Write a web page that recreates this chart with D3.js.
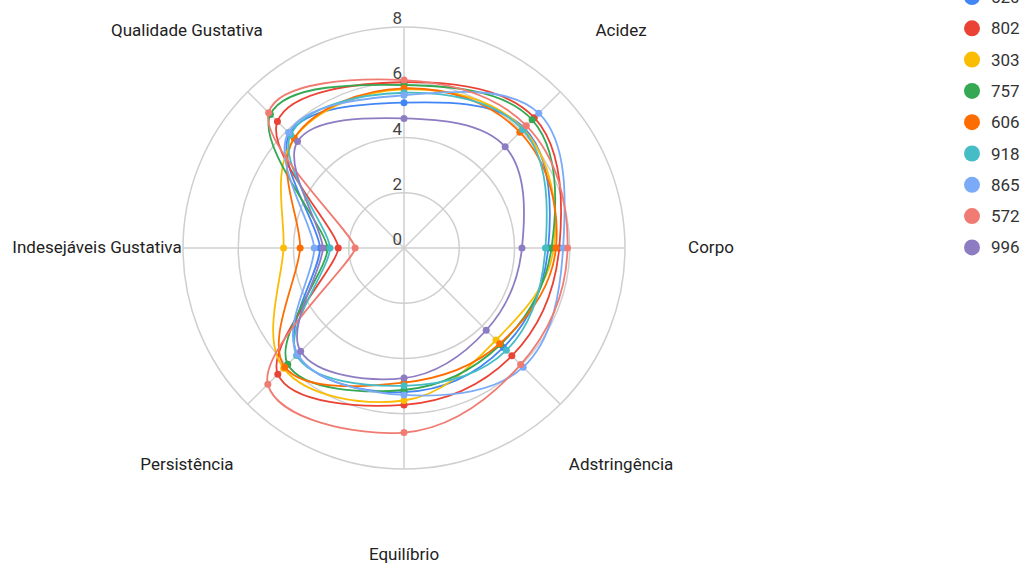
<!DOCTYPE html>
<html>
<head>
<meta charset="utf-8">
<script src="https://cdnjs.cloudflare.com/ajax/libs/d3/7.8.5/d3.min.js"></script>
<style>
  html, body { margin: 0; padding: 0; background: #fff; }
  svg { display: block; font-family: Roboto, "Noto Sans", sans-serif; }
</style>
</head>
<body>
<svg id="chart" width="1023" height="564"></svg>
<script>
// Sensory attributes, clockwise from the top axis
const attributes = ["Doçura", "Acidez", "Corpo", "Adstringência", "Equilíbrio",
                    "Persistência", "Indesejáveis Gustativa", "Qualidade Gustativa"];

// Sample codes and their scores, in attribute order
const samples = ["520", "802", "303", "757", "606", "918", "865", "572", "996"];
const s520 = [5.26, 6.15, 5.22, 5.09, 5.22, 5.45, 3.04, 5.85];
const s802 = [6.00, 6.67, 5.62, 5.52, 5.68, 6.46, 2.38, 6.48];
const s303 = [5.74, 6.10, 5.42, 4.71, 5.52, 6.16, 4.36, 5.62];
const s757 = [5.90, 6.56, 5.34, 4.94, 5.14, 5.95, 2.77, 6.84];
const s606 = [5.78, 5.93, 5.50, 4.90, 4.87, 6.10, 3.76, 5.62];
const s918 = [5.62, 6.07, 5.12, 5.24, 4.99, 5.50, 2.68, 5.80];
const s865 = [5.53, 6.90, 5.76, 6.10, 5.32, 5.45, 3.25, 5.91];
const s572 = [6.08, 6.26, 5.92, 5.97, 6.68, 6.97, 1.77, 6.93];
const s996 = [4.69, 5.18, 4.27, 4.21, 4.71, 5.29, 2.94, 5.45];
const scores = [s520, s802, s303, s757, s606, s918, s865, s572, s996];

// Radial tick values
const ticks = [0, 2, 4, 6, 8];

const colors = ["#4285F4", "#EA4335", "#FBBC04", "#34A853", "#FF6D01",
                "#46BDC6", "#7BAAF7", "#F07B72", "#8E7CC3"];

// Closed cubic spline around the chart centre (0,0). Tangents follow the
// neighbouring points as in a cardinal spline, but shrink at points that dip
// well inside their neighbours, which keeps those inward spikes pointed.
function RadarSmooth(context) { this._context = context; }
RadarSmooth.prototype = {
  areaStart() {}, areaEnd() {},
  lineStart() { this._p = []; },
  point(x, y) { this._p.push([x, y]); },
  lineEnd() {
    const p = this._p, n = p.length, ctx = this._context, k = 0.19;
    if (!n) return;
    const rad = q => Math.hypot(q[0], q[1]);
    const tan = p.map((q, i) => {
      const a = p[(i - 1 + n) % n], b = p[(i + 1) % n];
      const f = Math.min(1, 2 * rad(q) / (rad(a) + rad(b)));
      return [(b[0] - a[0]) * k * f, (b[1] - a[1]) * k * f];
    });
    ctx.moveTo(p[0][0], p[0][1]);
    for (let i = 0; i < n; i++) {
      const j = (i + 1) % n;
      ctx.bezierCurveTo(p[i][0] + tan[i][0], p[i][1] + tan[i][1],
                        p[j][0] - tan[j][0], p[j][1] - tan[j][1],
                        p[j][0], p[j][1]);
    }
    ctx.closePath();
  }
};
const curveRadarSmooth = context => new RadarSmooth(context);

const svg = d3.select("#chart");
const cx = 404, cy = 248;
const g = svg.append("g").attr("transform", `translate(${cx},${cy})`);

const r = d3.scaleLinear().domain([0, 8]).range([0, 221]);
const step = 2 * Math.PI / attributes.length;
const ang = i => i * step;

// Grid circles
g.selectAll("circle.grid")
  .data(ticks.filter(t => t > 0))
  .join("circle")
  .attr("class", "grid")
  .attr("r", d => r(d))
  .attr("fill", "none")
  .attr("stroke", "#cfcfcf")
  .attr("stroke-width", 1.5);

// Spokes
g.selectAll("line.spoke")
  .data(attributes)
  .join("line")
  .attr("class", "spoke")
  .attr("x1", 0).attr("y1", 0)
  .attr("x2", (d, i) => r(8) * Math.sin(ang(i)))
  .attr("y2", (d, i) => -r(8) * Math.cos(ang(i)))
  .attr("stroke", "#cfcfcf")
  .attr("stroke-width", 1.5);

// Smoothed closed series curves
const radial = d3.lineRadial()
  .angle((d, i) => ang(i))
  .radius(d => r(d))
  .curve(curveRadarSmooth);

const series = g.selectAll("g.series")
  .data(scores)
  .join("g")
  .attr("class", "series");

series.append("path")
  .attr("d", d => radial(d))
  .attr("fill", "none")
  .attr("stroke", (d, i) => colors[i])
  .attr("stroke-width", 1.8);

series.each(function (vals, si) {
  d3.select(this).selectAll("circle")
    .data(vals)
    .join("circle")
    .attr("cx", (d, i) => r(d) * Math.sin(ang(i)))
    .attr("cy", (d, i) => -r(d) * Math.cos(ang(i)))
    .attr("r", 3.5)
    .attr("fill", colors[si]);
});

// Tick labels along the top spoke
g.selectAll("text.tick")
  .data(ticks)
  .join("text")
  .attr("class", "tick")
  .attr("x", -2)
  .attr("y", d => -r(d) - 3)
  .attr("text-anchor", "end")
  .attr("font-size", 17)
  .attr("fill", "#444")
  .text(d => d);

// Attribute labels (the top one sits above the visible area)
const labelR = 307;
g.selectAll("text.attr")
  .data(attributes)
  .join("text")
  .attr("class", "attr")
  .attr("x", (d, i) => labelR * Math.sin(ang(i)))
  .attr("y", (d, i) => -labelR * Math.cos(ang(i)) - 1)
  .attr("text-anchor", "middle")
  .attr("dominant-baseline", "central")
  .attr("font-size", 17)
  .attr("fill", "#222")
  .text(d => d);

// Legend
const legend = svg.append("g");
const item = legend.selectAll("g")
  .data(samples)
  .join("g")
  .attr("transform", (d, i) => `translate(972,${-3 + i * 31.3})`);
item.append("circle").attr("r", 8).attr("fill", (d, i) => colors[i]);
item.append("text")
  .attr("x", 19)
  .attr("dominant-baseline", "central")
  .attr("font-size", 17)
  .attr("fill", "#333")
  .text(d => d);
</script>
</body>
</html>
